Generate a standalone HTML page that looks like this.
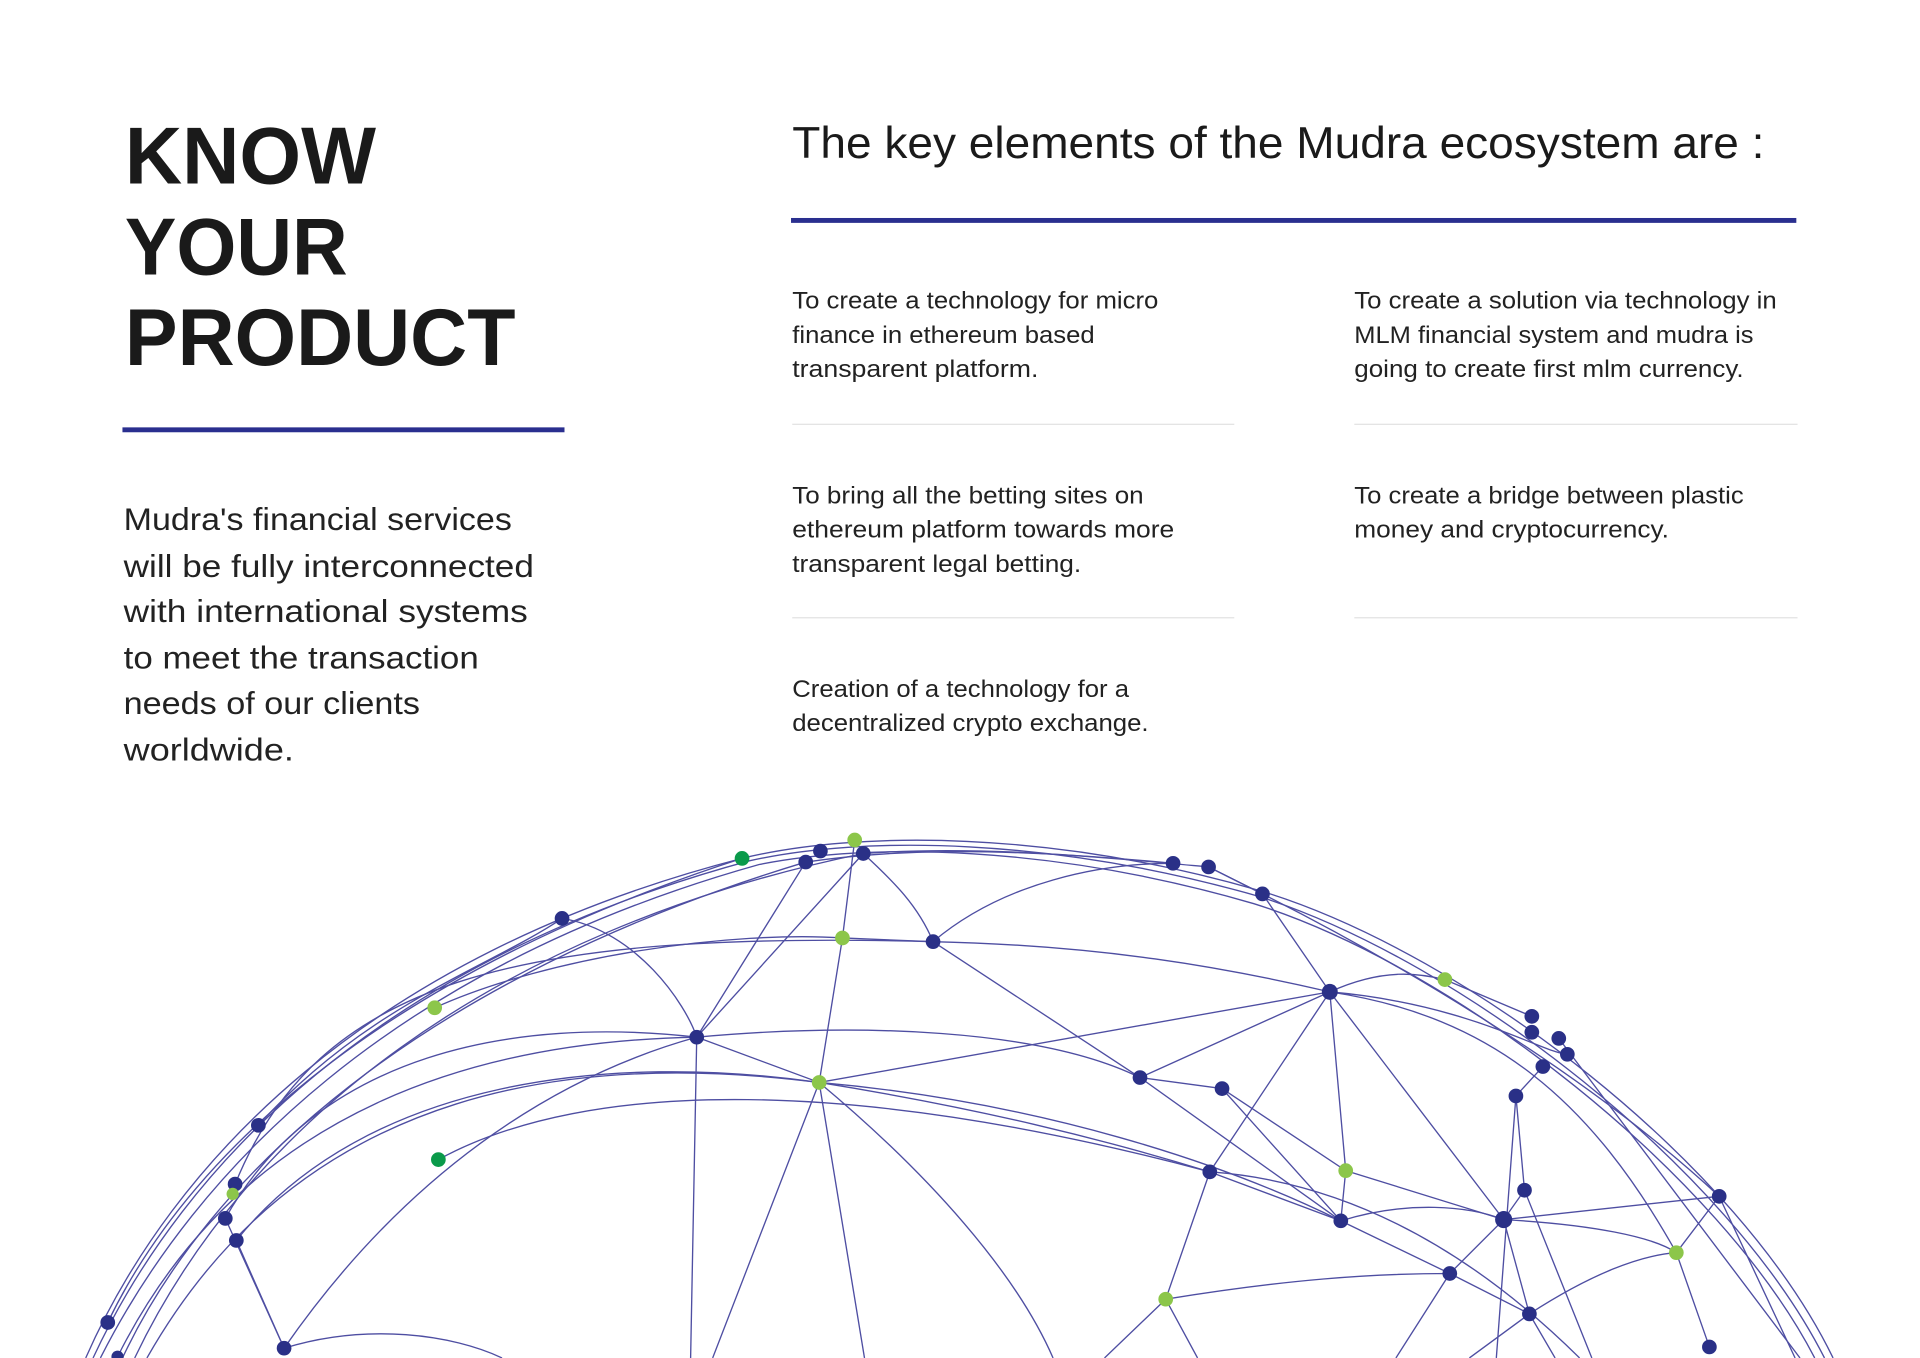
<!DOCTYPE html>
<html><head><meta charset="utf-8"><style>html,body{margin:0;padding:0;background:#fff}svg{display:block}</style></head>
<body>
<svg width="1920" height="1358" viewBox="0 0 1568 1109" xmlns="http://www.w3.org/2000/svg" font-family="Liberation Sans, sans-serif">
<rect width="1568" height="1109" fill="#fff"/>
<g font-weight="bold" font-size="66" fill="#1a1a1a">
<text x="102" y="150" textLength="205" lengthAdjust="spacingAndGlyphs">KNOW</text>
<text x="102" y="224" textLength="182" lengthAdjust="spacingAndGlyphs">YOUR</text>
<text x="102" y="298" textLength="319" lengthAdjust="spacingAndGlyphs">PRODUCT</text>
</g>
<rect x="100" y="349" width="361" height="4" fill="#2a2f8f"/>
<g font-size="26" fill="#222">
<text x="101" y="433" textLength="317" lengthAdjust="spacingAndGlyphs">Mudra's financial services</text>
<text x="101" y="471" textLength="335" lengthAdjust="spacingAndGlyphs">will be fully interconnected</text>
<text x="101" y="508" textLength="330" lengthAdjust="spacingAndGlyphs">with international systems</text>
<text x="101" y="546" textLength="290" lengthAdjust="spacingAndGlyphs">to meet the transaction</text>
<text x="101" y="583" textLength="242" lengthAdjust="spacingAndGlyphs">needs of our clients</text>
<text x="101" y="621" textLength="139" lengthAdjust="spacingAndGlyphs">worldwide.</text>
</g>
<text x="647" y="129" font-size="36" fill="#1a1a1a" textLength="794" lengthAdjust="spacingAndGlyphs">The key elements of the Mudra ecosystem are :</text>
<rect x="646" y="178" width="821" height="4" fill="#2a2f8f"/>
<g font-size="19.5" fill="#222">
<text x="647" y="252" textLength="299" lengthAdjust="spacingAndGlyphs">To create a technology for micro</text>
<text x="647" y="280" textLength="247" lengthAdjust="spacingAndGlyphs">finance in ethereum based</text>
<text x="647" y="308" textLength="201" lengthAdjust="spacingAndGlyphs">transparent platform.</text>
<text x="1106" y="252" textLength="345" lengthAdjust="spacingAndGlyphs">To create a solution via technology in</text>
<text x="1106" y="280" textLength="326" lengthAdjust="spacingAndGlyphs">MLM financial system and mudra is</text>
<text x="1106" y="308" textLength="318" lengthAdjust="spacingAndGlyphs">going to create first mlm currency.</text>
<text x="647" y="411" textLength="287" lengthAdjust="spacingAndGlyphs">To bring all the betting sites on</text>
<text x="647" y="439" textLength="312" lengthAdjust="spacingAndGlyphs">ethereum platform towards more</text>
<text x="647" y="467" textLength="236" lengthAdjust="spacingAndGlyphs">transparent legal betting.</text>
<text x="1106" y="411" textLength="318" lengthAdjust="spacingAndGlyphs">To create a bridge between plastic</text>
<text x="1106" y="439" textLength="257" lengthAdjust="spacingAndGlyphs">money and cryptocurrency.</text>
<text x="647" y="569" textLength="275" lengthAdjust="spacingAndGlyphs">Creation of a technology for a</text>
<text x="647" y="597" textLength="291" lengthAdjust="spacingAndGlyphs">decentralized crypto exchange.</text>
</g>
<g fill="#e2e2e2">
<rect x="647" y="346" width="361" height="1"/><rect x="1106" y="346" width="362" height="1"/>
<rect x="647" y="504" width="361" height="1"/><rect x="1106" y="504" width="362" height="1"/>
</g>
<g fill="none" stroke="#3b3b98" stroke-width="1.1" opacity="0.9">
<path d="M70 1109 C140 950,300 780,606 701 C700 678,860 678,1031 728 C1200 780,1420 950,1497 1109"/>
<path d="M76 1109 C150 950,310 785,612 703 C705 682,860 684,1028 732 C1195 785,1412 955,1490 1109"/>
<path d="M82 1109 C160 955,320 790,620 706 C710 688,860 690,1024 738 C1190 790,1405 960,1482 1109"/>
<path d="M88 1080 C160 930,330 790,606 701"/>
<path d="M100 1109 C170 960,340 800,658 704 C720 695,800 690,958 705"/>
<path d="M110 1109 C200 920,400 760,705 697 C800 690,900 700,987 708 L1031 730 C1150 790,1300 880,1404 977 L1466 1109"/>
<path d="M459 750 C520 760,560 820,569 847"/>
<path d="M192 967 C260 800,420 760,762 769 C900 772,1000 790,1086 810"/>
<path d="M184 995 C260 860,420 830,569 847 C700 835,850 840,931 880 L998 889"/>
<path d="M193 1013 C300 880,500 860,669 884 C800 905,900 930,988 957"/>
<path d="M358 947 C480 880,700 880,988 957 L1095 997"/>
<path d="M96 1108 C200 900,400 850,569 847"/>
<path d="M120 1109 C250 880,480 860,669 884 C850 900,1000 950,1095 997"/>
<path d="M355 823 C450 780,600 760,688 766 L762 769"/>
<path d="M211 919 C300 820,400 790,459 750"/>
<path d="M569 847 L658 704 M569 847 L705 697 M569 847 L564 1109 M569 847 L669 884 L1086 810"/>
<path d="M232 1101 C330 960,450 880,569 847"/>
<path d="M669 884 L688 766 L698 686 M669 884 L582 1109 M669 884 L706 1109 M669 884 C760 960,830 1040,860 1109"/>
<path d="M705 697 C730 720,750 740,762 769 L931 880 L1095 997"/>
<path d="M762 769 C820 720,900 705,958 705"/>
<path d="M1086 810 L1031 730 L987 708 M1086 810 L931 880 M1086 810 L988 957 L952 1061 L902 1109 M952 1061 L978 1109"/>
<path d="M1086 810 L1099 956 L1095 997 M1086 810 L1228 996 M1086 810 C1130 790,1160 795,1180 800 L1251 830 M1086 810 C1200 820,1260 860,1280 861 M1086 810 C1220 830,1300 900,1369 1023"/>
<path d="M998 889 L1099 956 L1228 996 L1404 977 M998 889 L1095 997"/>
<path d="M1095 997 C1150 980,1200 985,1228 996 C1300 1000,1350 1010,1369 1023 L1396 1100"/>
<path d="M1095 997 L1184 1040 L1249 1073 L1270 1109 M1184 1040 L1228 996 L1245 972 L1238 895 L1260 871 M1228 996 L1249 1073"/>
<path d="M952 1061 C1050 1045,1120 1040,1184 1040 L1140 1109"/>
<path d="M1249 1073 C1300 1040,1340 1025,1369 1023 L1404 977 M1249 1073 L1200 1109 M1245 972 L1300 1109"/>
<path d="M1238 895 L1222 1109 M1273 848 L1470 1109"/>
<path d="M988 957 C1100 965,1200 1020,1290 1109"/>
<path d="M184 995 L232 1101 M193 1013 L232 1101"/>
<path d="M232 1101 C300 1080,370 1090,410 1109"/>
</g>
<g fill="#2a3087">
<circle cx="658" cy="704" r="6"/><circle cx="670" cy="695" r="6"/><circle cx="705" cy="697" r="6"/><circle cx="459" cy="750" r="6"/><circle cx="958" cy="705" r="6"/><circle cx="987" cy="708" r="6"/><circle cx="1031" cy="730" r="6"/><circle cx="762" cy="769" r="6"/><circle cx="1086" cy="810" r="6.5"/><circle cx="569" cy="847" r="6"/><circle cx="931" cy="880" r="6"/><circle cx="998" cy="889" r="6"/><circle cx="1251" cy="830" r="6"/><circle cx="1251" cy="843" r="6"/><circle cx="1273" cy="848" r="6"/><circle cx="1280" cy="861" r="6"/><circle cx="1260" cy="871" r="6"/><circle cx="1238" cy="895" r="6"/><circle cx="211" cy="919" r="6"/><circle cx="192" cy="967" r="6"/><circle cx="184" cy="995" r="6"/><circle cx="193" cy="1013" r="6"/><circle cx="988" cy="957" r="6"/><circle cx="1095" cy="997" r="6"/><circle cx="1228" cy="996" r="7"/><circle cx="1245" cy="972" r="6"/><circle cx="1404" cy="977" r="6"/><circle cx="1184" cy="1040" r="6"/><circle cx="1249" cy="1073" r="6"/><circle cx="88" cy="1080" r="6"/><circle cx="232" cy="1101" r="6"/><circle cx="1396" cy="1100" r="6"/><circle cx="96" cy="1108" r="5"/>
</g>
<g fill="#8cc64a">
<circle cx="698" cy="686" r="6"/><circle cx="688" cy="766" r="6"/><circle cx="355" cy="823" r="6"/><circle cx="669" cy="884" r="6"/><circle cx="1180" cy="800" r="6"/><circle cx="190" cy="975" r="5"/><circle cx="1099" cy="956" r="6"/><circle cx="1369" cy="1023" r="6"/><circle cx="952" cy="1061" r="6"/>
</g>
<g fill="#0a9a4a"><circle cx="606" cy="701" r="6"/><circle cx="358" cy="947" r="6"/></g>
</svg>
</body></html>
